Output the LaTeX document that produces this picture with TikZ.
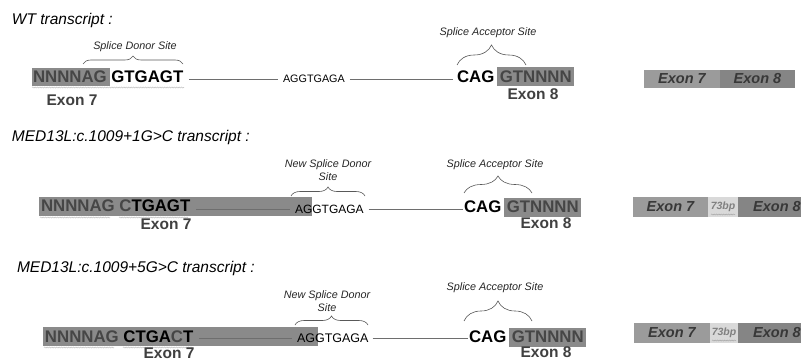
\documentclass[tikz,border=0pt]{standalone}
\usepackage{fontspec}
\setmainfont{Liberation Sans}
\usetikzlibrary{decorations.pathreplacing,decorations.pathmorphing}

\definecolor{exonfill}{HTML}{8A8A8A}
\definecolor{seqgray}{HTML}{464646}
\definecolor{exonlabel}{HTML}{404040}
\definecolor{intronline}{HTML}{6E6E6E}
\definecolor{barA}{HTML}{9B9B9B}
\definecolor{barB}{HTML}{858585}
\definecolor{bartext}{HTML}{383838}
\definecolor{bpfill}{HTML}{D9D9D9}
\definecolor{bptext}{HTML}{808080}

\tikzset{
  every node/.style={inner sep=0pt, outer sep=0pt},
  title/.style={anchor=west, font=\fontsize{15.5}{18}\selectfont\itshape},
  sitelabel/.style={font=\fontsize{10.8}{13.5}\selectfont\itshape, text=black!85, align=center},
  seq/.style={anchor=west, font=\fontsize{16.8}{20}\selectfont\bfseries},
  introntext/.style={anchor=west, text=black},
  exonbox/.style={fill=exonfill, draw=none, anchor=north west},
  gtbox/.style={fill=exonfill, text=seqgray, font=\fontsize{16.8}{20}\selectfont\bfseries,
                inner xsep=2.8pt, minimum height=19pt, anchor=west},
  exonlabel/.style={font=\fontsize{15.5}{18}\selectfont\bfseries, text=exonlabel},
  connector/.style={draw=intronline, line width=0.8pt},
  sitebrace/.style={draw=black!65, line width=0.6pt, decorate,
                    decoration={brace, amplitude=#1}},
  wavy/.style={draw=black!25, line width=0.5pt, decorate,
               decoration={snake, segment length=2.4pt, amplitude=0.5pt}},
  barseg/.style={anchor=west, font=\fontsize{14.5}{17}\selectfont\bfseries\itshape, text=bartext},
  bpseg/.style={anchor=west, fill=bpfill, text=bptext, font=\fontsize{10.5}{12}\selectfont\bfseries\itshape}
}

\begin{document}
\begin{tikzpicture}[x=1pt, y=-1pt]
  \clip (0,0) rectangle (801,361);
  \fill[white] (0,0) rectangle (801,361);

  % ---------------- wild-type transcript ----------------
  \node[title] (t1) at (12,20) {WT transcript :};

  \node[exonbox, minimum width=78pt, minimum height=18pt] (box1) at (32,68) {};
  \draw[wavy] (32,87.5) -- (184,87.5);
  \node[seq] (seq1) at (33,77) {\textcolor{seqgray}{NNNNAG} GTGAGT};
  \node[introntext, font=\fontsize{10.8}{12}\selectfont] (intr1) at (283,79) {AGGTGAGA};
  \node[seq] (cag1) at (457,77) {CAG};
  \node[gtbox] (gt1) at (497,76.5) {GTNNNN};
  \draw[connector, shorten <=6pt, shorten >=5pt] (seq1.east |- intr1.west) -- (intr1.west);
  \draw[connector, shorten <=5pt, shorten >=4pt] (intr1.east) -- (intr1.east -| cag1.west);

  \node[exonlabel] (e7a) at (72,100) {Exon 7};
  \node[exonlabel] (e8a) at (533,94) {Exon 8};

  \node[sitelabel] (don1) at (135,47) {Splice Donor Site};
  \coordinate (d1l) at (83,64);
  \coordinate (d1r) at (183,64);
  \draw[sitebrace=8pt] (d1l) -- (d1r);

  \node[sitelabel] (acc1) at (488,33) {Splice Acceptor Site};
  \coordinate (a1l) at (457,65);
  \coordinate (a1r) at (526,65);
  \draw[sitebrace=20pt] (a1l) -- (a1r);

  \node[barseg, fill=barA, minimum width=76pt, minimum height=18pt] (bar1a) at (644,79) {Exon 7};
  \node[barseg, fill=barB, minimum width=75pt, minimum height=18pt] (bar1b) at (bar1a.east) {Exon 8};

  % ---------------- c.1009+1G>C transcript ----------------
  \node[title] (t2) at (12,137) {MED13L:c.1009+1G>C transcript :};

  \node[exonbox, minimum width=273pt, minimum height=19pt] (box2) at (39,197) {};
  \draw[wavy] (40,217.5) -- (110,217.5);
  \draw[wavy] (119,217.5) -- (188,217.5);
  \node[seq] (seq2) at (41,206) {\textcolor{seqgray}{NNNNAG C}TGAGT};
  \node[introntext, font=\fontsize{12}{14}\selectfont] (intr2) at (295,209) {AGGTGAGA};
  \node[seq] (cag2) at (464,207) {CAG};
  \node[gtbox] (gt2) at (504,207) {GTNNNN};
  \draw[connector, shorten <=6pt, shorten >=5pt] (seq2.east |- intr2.west) -- (intr2.west);
  \draw[connector, shorten <=5pt, shorten >=1pt] (intr2.east) -- (intr2.east -| cag2.west);

  \node[exonlabel] (e7b) at (166,224) {Exon 7};
  \node[exonlabel] (e8b) at (546,223) {Exon 8};

  \node[sitelabel] (don2) at (328,170) {New Splice Donor\\Site};
  \coordinate (d2l) at (291,196);
  \coordinate (d2r) at (365,196);
  \draw[sitebrace=9pt] (d2l) -- (d2r);

  \node[sitelabel] (acc2) at (495,165) {Splice Acceptor Site};
  \coordinate (a2l) at (464,193);
  \coordinate (a2r) at (532,193);
  \draw[sitebrace=17pt] (a2l) -- (a2r);

  \node[barseg, fill=barA, minimum width=75pt, minimum height=20pt] (bar2a) at (633,207) {Exon 7};
  \node[bpseg, minimum width=30pt, minimum height=20pt] (bp2) at (bar2a.east) {73bp};
  \node[barseg, fill=barB, minimum width=78pt, minimum height=20pt] (bar2b) at (bp2.east) {Exon 8};
  \draw[wavy, draw=black!35] (711,214.5) -- (735,214.5);

  % ---------------- c.1009+5G>C transcript ----------------
  \node[title] (t3) at (17,268) {MED13L:c.1009+5G>C transcript :};

  \node[exonbox, minimum width=275pt, minimum height=19pt] (box3) at (43,327) {};
  \draw[wavy] (44,347.5) -- (114,347.5);
  \draw[wavy] (123,347.5) -- (193,347.5);
  \node[seq] (seq3) at (45,337) {\textcolor{seqgray}{NNNNAG} CTGA\textcolor{seqgray}{C}T};
  \node[introntext, font=\fontsize{12.5}{14}\selectfont] (intr3) at (297,338) {AGGTGAGA};
  \node[seq] (cag3) at (469,337) {CAG};
  \node[gtbox] (gt3) at (509,337) {GTNNNN};
  \draw[connector, shorten <=6pt, shorten >=5pt] (seq3.east |- intr3.west) -- (intr3.west);
  \draw[connector, shorten <=4pt, shorten >=1pt] (intr3.east) -- (intr3.east -| cag3.west);

  \node[exonlabel] (e7c) at (169,353) {Exon 7};
  \node[exonlabel] (e8c) at (546,352) {Exon 8};

  \node[sitelabel] (don3) at (327,301) {New Splice Donor\\Site};
  \coordinate (d3l) at (295,325);
  \coordinate (d3r) at (368,325);
  \draw[sitebrace=9pt] (d3l) -- (d3r);

  \node[sitelabel] (acc3) at (495,288) {Splice Acceptor Site};
  \coordinate (a3l) at (464,321);
  \coordinate (a3r) at (532,321);
  \draw[sitebrace=20pt] (a3l) -- (a3r);

  \node[barseg, fill=barA, minimum width=76pt, minimum height=20pt] (bar3a) at (634,333) {Exon 7};
  \node[bpseg, minimum width=28pt, minimum height=20pt] (bp3) at (bar3a.east) {73bp};
  \node[barseg, fill=barB, minimum width=78pt, minimum height=20pt] (bar3b) at (bp3.east) {Exon 8};
  \draw[wavy, draw=black!35] (712,340.5) -- (736,340.5);
\end{tikzpicture}
\end{document}
